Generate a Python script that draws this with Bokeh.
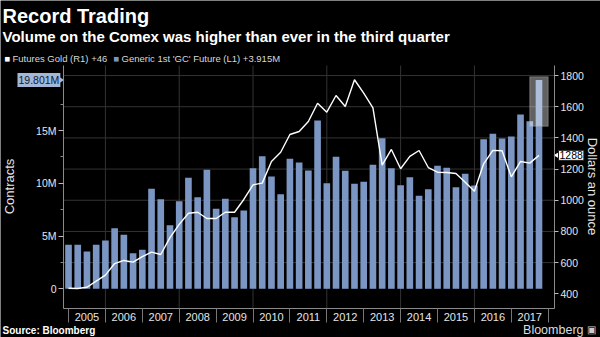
import math
from bokeh.plotting import figure
from bokeh.models import Range1d, LinearAxis, FixedTicker, Label, BoxAnnotation, ColumnDataSource
from bokeh.embed import file_html
from bokeh.resources import INLINE

# ---------------- data ----------------
# quarters from 2004 Q4 to 2017 Q3, plotted at quarter-end dates (decimal years)
quarters = [(2004, 4)] + [(y, q) for y in range(2005, 2018) for q in (1, 2, 3, 4) if not (y == 2017 and q == 4)]
quarter_end = [y + q / 4.0 for (y, q) in quarters]

# Generic 1st 'GC' Future volume, millions of contracts (left axis)
volume_m = [4.17, 4.17, 3.54, 4.17, 4.58, 5.75, 5.12, 3.38, 3.69, 9.48,
            8.50, 6.03, 8.31, 10.52, 8.68, 11.28, 7.58, 8.53, 6.79, 7.42,
            11.43, 12.57, 10.64, 8.97, 12.32, 11.97, 11.21, 15.95, 10.01, 12.51,
            11.18, 9.95, 10.14, 11.75, 14.28, 11.43, 9.82, 10.58, 8.81, 9.44,
            11.66, 11.47, 9.63, 10.90, 9.79, 14.18, 14.69, 14.25, 14.44, 16.52,
            15.89, 19.801]

# Futures Gold price, dollars an ounce (right axis)
gold = [436, 434, 442, 481, 520, 594, 614, 603, 639, 667,
        652, 760, 845, 917, 923, 883, 883, 923, 923, 1005,
        1099, 1110, 1249, 1308, 1422, 1441, 1505, 1622, 1565, 1672,
        1601, 1773, 1687, 1593, 1225, 1326, 1202, 1281, 1319, 1210,
        1180, 1178, 1172, 1116, 1058, 1234, 1320, 1318, 1150, 1249,
        1238, 1288]

year_labels = [str(y) for y in range(2005, 2018)]
year_bounds = list(range(2005, 2019))
grid_years = [2006, 2008, 2010, 2012, 2014, 2016]
dollar_ticks = [400, 600, 800, 1000, 1200, 1400, 1600, 1800]
volume_ticks = [0, 5, 10, 15]
volume_tick_labels = ["0", "5M", "10M", "15M"]
volume_minor = [2.5, 7.5, 12.5, 17.5]

title = "Record Trading"
subtitle = "Volume on the Comex was higher than ever in the third quarter"
legend_gold = "Futures Gold (R1) +46"
legend_vol = "Generic 1st 'GC' Future  (L1) +3.915M"

# ---------------- layout ----------------
# The frame covers the whole canvas; axes are pinned with fixed_location
W, H = 600, 337
X_ALL = (2003.157, 2019.417)     # canvas x extent in years
Y_ALL = (119.7, 2281.3)          # canvas y extent in dollars
V_ALL = (-4.616, 27.327)         # canvas y extent in millions of contracts
X_PLOT = (2004.864, 2018.17)     # plot area in years
Y_PLOT = (305.7, 1864.4)         # plot area in dollars
V_PLOT = (-1.867, 21.166)        # plot area in contracts

BAR = "#7b96c3"
GRID = "#333333"
AXIS = "#8a8a8a"
TXT = "#e6e6e6"
FONT = "Liberation Sans"

p = figure(width=W, height=H, output_backend="svg", toolbar_location=None,
           x_range=Range1d(*X_ALL), y_range=Range1d(*Y_ALL),
           x_axis_type=None, y_axis_type=None,
           min_border=0, min_border_left=0, min_border_right=0, min_border_top=0, min_border_bottom=0,
           background_fill_color="black", border_fill_color="black", outline_line_color=None)
p.title = None
p.extra_y_ranges = {"vol": Range1d(*V_ALL)}
p.xgrid.visible = False
p.ygrid.visible = False

# grid lines (at the dollar ticks and every other year), limited to the plot area
p.segment(x0=grid_years, x1=grid_years, y0=[Y_PLOT[0]] * len(grid_years), y1=[Y_PLOT[1]] * len(grid_years),
          line_color=GRID, line_width=1)
gy = dollar_ticks[1:]
p.segment(x0=[X_PLOT[0]] * len(gy), x1=[X_PLOT[1]] * len(gy), y0=gy, y1=gy, line_color=GRID, line_width=1)

src = ColumnDataSource(dict(x=quarter_end, vol=volume_m, gold=gold))
p.vbar(x="x", top="vol", bottom=0, width=0.18, source=src, y_range_name="vol",
       fill_color=BAR, line_color=None)
p.line(x="x", y="gold", source=src, line_color="white", line_width=1.4)

# highlight on the last bar
last_x, last_v, last_g = quarter_end[-1], volume_m[-1], gold[-1]
p.add_layout(BoxAnnotation(left=last_x - 0.25, right=last_x + 0.25, bottom=last_v - 4.4, top=last_v + 0.3,
                           y_range_name="vol", fill_color="white", fill_alpha=0.38,
                           line_color="#b0b0b0", line_width=1.5))

def style_axis(ax, size="10.5px"):
    ax.axis_line_color = AXIS
    ax.major_tick_line_color = "#bbbbbb"
    ax.minor_tick_line_color = "#888888"
    ax.major_label_text_color = TXT
    ax.major_label_text_font_size = size
    ax.major_label_text_font = FONT
    ax.major_tick_in = 0
    ax.minor_tick_in = 0

# right axis (dollars)
ry = LinearAxis(ticker=FixedTicker(ticks=dollar_ticks, minor_ticks=[]), fixed_location=X_PLOT[1],
                bounds=Y_PLOT)
style_axis(ry)
ry.major_tick_out = 4
ry.minor_tick_out = 0
ry.major_label_standoff = 2
p.add_layout(ry, "right")

# left axis (contracts)
ly = LinearAxis(y_range_name="vol", fixed_location=X_PLOT[0], bounds=V_PLOT,
                ticker=FixedTicker(ticks=volume_ticks, minor_ticks=volume_minor))
ly.major_label_overrides = {t: l for t, l in zip(volume_ticks, volume_tick_labels)}
style_axis(ly)
ly.major_tick_out = 5
ly.minor_tick_out = 3
ly.major_label_standoff = 2
p.add_layout(ly, "left")

# bottom axis (years)
mids = [y + 0.5 for y in range(2005, 2018)]
xa = LinearAxis(fixed_location=Y_PLOT[0], bounds=X_PLOT,
                ticker=FixedTicker(ticks=mids, minor_ticks=year_bounds))
xa.major_label_overrides = {m: l for m, l in zip(mids, year_labels)}
style_axis(xa, "11px")
xa.major_tick_out = 0
xa.minor_tick_out = 14
xa.minor_tick_line_color = "#777777"
xa.major_label_standoff = -10
p.add_layout(xa, "below")

def lab(text, cx, cy, size, color="white", bold=False, align="left", angle=0.0, **kw):
    p.add_layout(Label(x=cx, y=H - cy, x_units="screen", y_units="screen", text=text,
                       text_font=FONT, text_font_size=size, text_color=color,
                       text_font_style="bold" if bold else "normal",
                       text_align=align, text_baseline="middle", angle=angle, **kw))

lab(title, 2, 15, "20px", bold=True)
lab(subtitle, 2, 36, "15px", bold=True)
lab("\u25A0", 4, 58, "9.5px", color="white")
lab(legend_gold, 12, 58, "9.5px", color="#d8d8d8")
lab("\u25A0", 113, 58, "9.5px", color=BAR)
lab(legend_vol, 121, 58, "9.5px", color="#d8d8d8")
lab("Contracts", 9, 186, "13px", color=TXT, align="center", angle=math.pi / 2)
lab("Dollars an ounce", 592, 186, "13px", color=TXT, align="center", angle=-math.pi / 2)
lab("Source: Bloomberg", 2, 330, "10px", bold=True)
lab("Bloomberg", 583, 329, "12.5px", color="#dddddd", align="right")
lab("\u25A3", 591, 329, "10px", color="#cccccc", align="center")

# value tags
p.scatter(x=[X_PLOT[0] - 0.1], y=[last_v], y_range_name="vol", marker="triangle", angle=-math.pi / 2,
          size=8, fill_color="#a3b8d8", line_color=None)
p.add_layout(Label(x=17, y=last_v, x_units="screen", y_range_name="vol",
                   text="19.801M", text_font=FONT, text_font_size="10.5px", text_color="#0d1b33",
                   text_baseline="middle", background_fill_color="#a3b8d8", padding=1))
p.scatter(x=[X_PLOT[1] + 0.1], y=[last_g], marker="triangle", angle=math.pi / 2,
          size=8, fill_color="white", line_color=None)
p.add_layout(Label(x=558, y=last_g, x_units="screen",
                   text=str(last_g), text_font=FONT, text_font_size="10.5px", text_color="black",
                   text_baseline="middle", background_fill_color="white",
                   border_line_color="#222222", padding=1))

open("out.html", "w").write(file_html(p, INLINE))
